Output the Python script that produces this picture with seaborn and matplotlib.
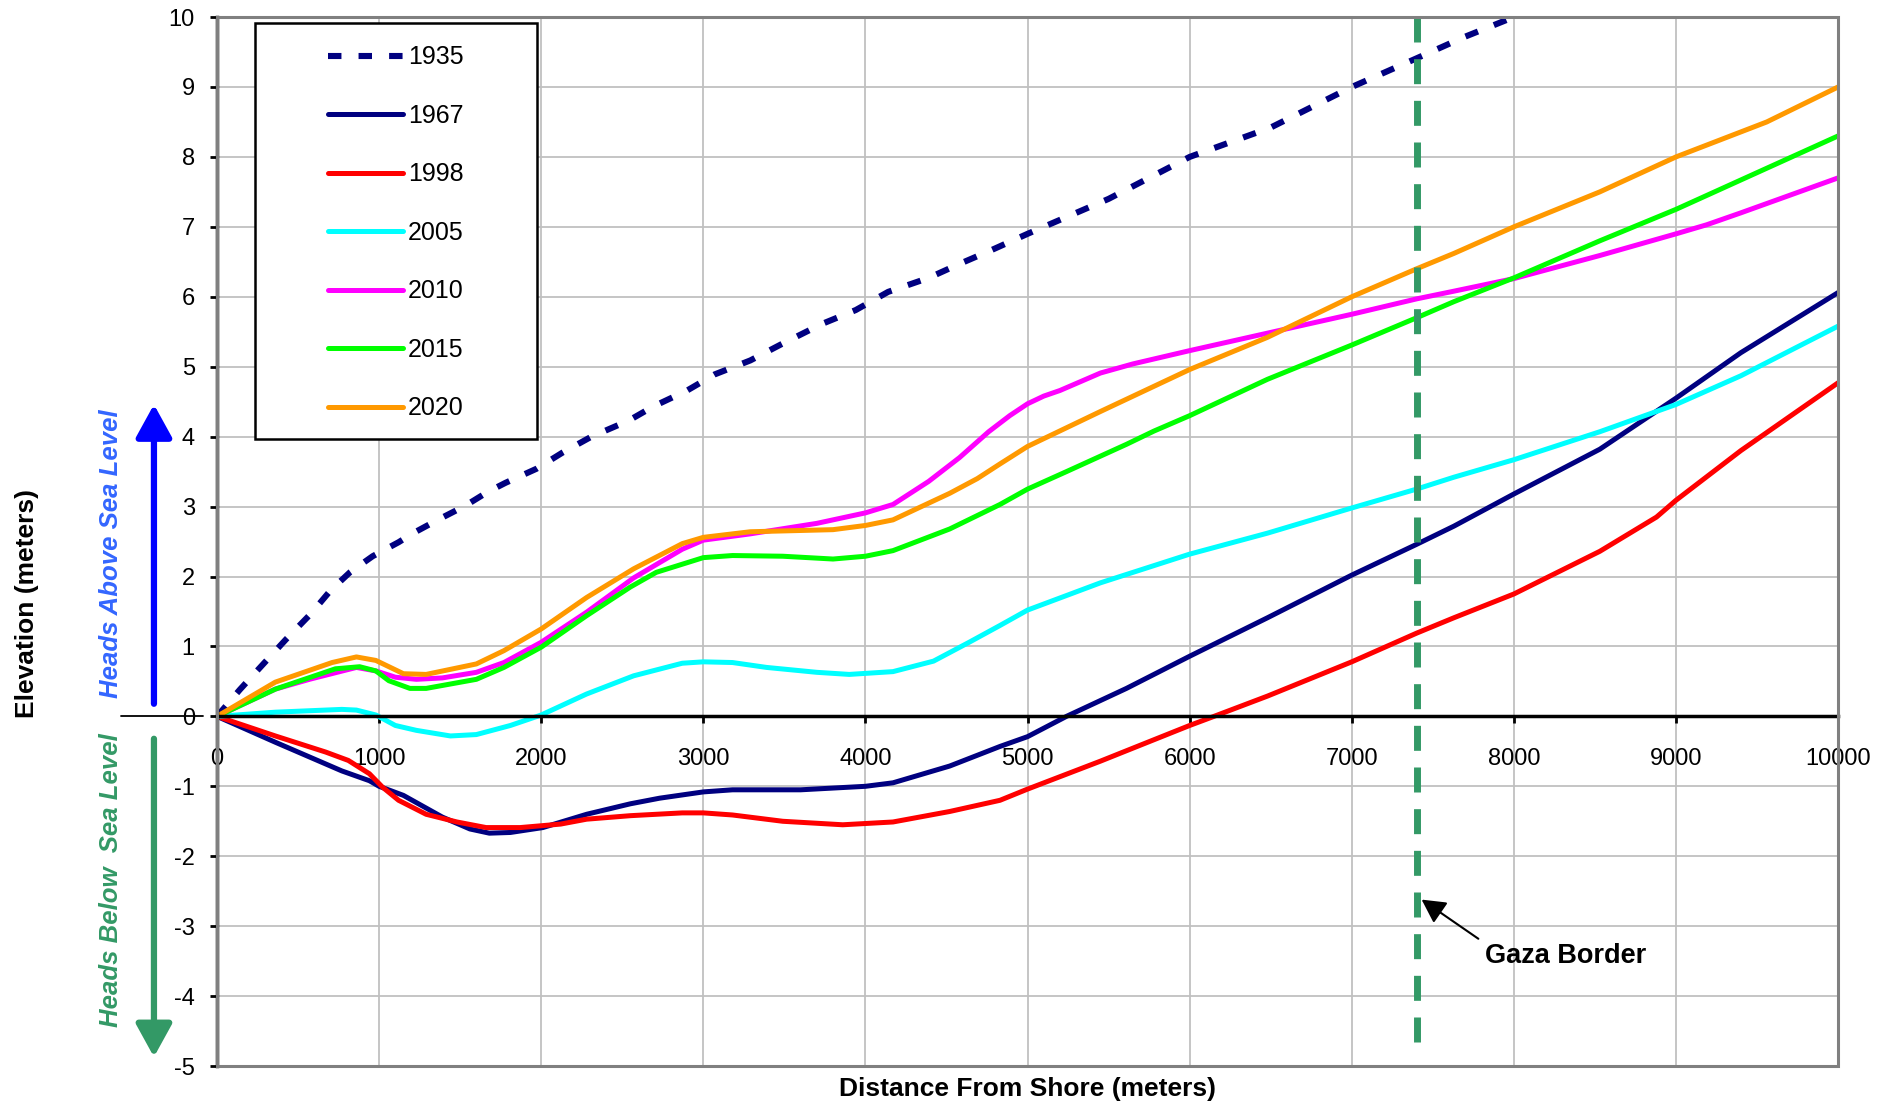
# Grundwasserspiegel-Profile (Gaza) nachgezeichnet mit seaborn
import pandas as pd
import seaborn as sns
import matplotlib.pyplot as plt
from matplotlib.patches import Rectangle

# Daten: Abstand von der Kueste (m) und Hoehe (m) je Jahr
x_1935 = [0, 140, 270, 425, 580, 700, 820, 960, 1120, 1210, 1370, 1530, 1670, 1780, 1970, 2130, 2310,
          2540, 2690, 2900, 3070, 3290, 3480, 3730, 3940, 4140, 4390, 4580, 4770, 5000, 5500, 6000,
          6500, 7000, 7400, 7700, 8000]
y_1935 = [0, 0.38, 0.71, 1.1, 1.47, 1.8, 2.06, 2.29, 2.49, 2.62, 2.82, 3.01, 3.21, 3.34, 3.54, 3.77, 4.0,
          4.23, 4.43, 4.66, 4.89, 5.09, 5.32, 5.61, 5.81, 6.07, 6.27, 6.47, 6.66, 6.9, 7.4, 8.0,
          8.42, 9.0, 9.41, 9.72, 10.0]

x_1967 = [0, 360, 770, 940, 1000, 1150, 1390, 1560, 1680, 1810, 2010, 2280, 2550, 2730, 3000, 3180, 3600,
          4000, 4170, 4520, 4830, 5000, 5240, 5610, 6000, 6480, 7000, 7400, 7630, 8000, 8530, 9000,
          9400, 10000]
y_1967 = [0, -0.37, -0.78, -0.92, -1.0, -1.13, -1.44, -1.61, -1.67, -1.66, -1.59, -1.40, -1.25, -1.17,
          -1.08, -1.05, -1.05, -1.0, -0.95, -0.71, -0.43, -0.29, 0.0, 0.40, 0.86, 1.41, 2.02, 2.46,
          2.72, 3.18, 3.82, 4.55, 5.2, 6.06]

x_1998 = [0, 360, 670, 810, 940, 1020, 1120, 1290, 1480, 1660, 1870, 2120, 2280, 2550, 2870, 3000, 3180,
          3490, 3860, 4170, 4520, 4830, 5000, 5450, 5590, 6000, 6150, 6480, 7000, 7400, 7630, 8000,
          8530, 8880, 9000, 9400, 10000]
y_1998 = [0, -0.28, -0.51, -0.63, -0.82, -1.01, -1.2, -1.40, -1.51, -1.59, -1.59, -1.54, -1.47, -1.42,
          -1.38, -1.38, -1.41, -1.50, -1.55, -1.51, -1.36, -1.2, -1.04, -0.64, -0.51, -0.13, 0.0, 0.29,
          0.78, 1.19, 1.41, 1.75, 2.36, 2.85, 3.09, 3.80, 4.77]

x_2005 = [0, 360, 770, 860, 980, 1100, 1230, 1440, 1600, 1810, 2000, 2280, 2570, 2870, 3000, 3180, 3390,
          3700, 3900, 4170, 4420, 4640, 4830, 5000, 5450, 6000, 6480, 7000, 7400, 7630, 8000, 8530,
          9000, 9400, 10000]
y_2005 = [0, 0.06, 0.10, 0.09, 0.02, -0.13, -0.2, -0.28, -0.26, -0.13, 0.02, 0.32, 0.58, 0.76, 0.78,
          0.77, 0.70, 0.63, 0.60, 0.64, 0.79, 1.06, 1.30, 1.52, 1.91, 2.32, 2.62, 2.98, 3.25, 3.42,
          3.67, 4.07, 4.46, 4.87, 5.58]

x_2010 = [0, 360, 570, 860, 980, 1100, 1230, 1390, 1600, 1770, 2000, 2280, 2570, 2870, 3000, 3290, 3700,
          4000, 4170, 4390, 4580, 4760, 4890, 5000, 5100, 5200, 5450, 5650, 6000, 6480, 7000, 7400,
          7630, 8000, 8530, 9000, 9190, 9400, 10000]
y_2010 = [0, 0.39, 0.53, 0.70, 0.65, 0.56, 0.53, 0.55, 0.63, 0.77, 1.06, 1.49, 1.98, 2.39, 2.52, 2.61,
          2.76, 2.91, 3.03, 3.36, 3.7, 4.07, 4.3, 4.47, 4.58, 4.66, 4.91, 5.04, 5.23, 5.48, 5.75, 5.97,
          6.08, 6.26, 6.59, 6.9, 7.03, 7.2, 7.7]

x_2015 = [0, 360, 730, 880, 980, 1060, 1190, 1290, 1600, 1770, 2000, 2280, 2550, 2710, 3000, 3180, 3490,
          3800, 4000, 4170, 4520, 4830, 5000, 5240, 5610, 5780, 6000, 6480, 7000, 7400, 7630, 8000,
          8530, 9000, 9400, 10000]
y_2015 = [0, 0.39, 0.68, 0.71, 0.65, 0.51, 0.40, 0.40, 0.53, 0.70, 0.99, 1.44, 1.85, 2.06, 2.27, 2.30,
          2.29, 2.25, 2.29, 2.37, 2.68, 3.03, 3.25, 3.50, 3.89, 4.08, 4.30, 4.82, 5.31, 5.70, 5.93,
          6.27, 6.8, 7.25, 7.67, 8.3]

x_2020 = [0, 360, 710, 860, 980, 1150, 1290, 1600, 1770, 2000, 2280, 2570, 2870, 3000, 3290, 3800, 4000,
          4170, 4520, 4690, 4830, 5000, 5450, 6000, 6480, 7000, 7400, 7630, 8000, 8530, 9000, 9560,
          10000]
y_2020 = [0, 0.49, 0.77, 0.85, 0.80, 0.61, 0.60, 0.75, 0.94, 1.25, 1.70, 2.11, 2.47, 2.56, 2.64, 2.67,
          2.73, 2.81, 3.19, 3.40, 3.61, 3.86, 4.36, 4.96, 5.42, 6.0, 6.40, 6.62, 7.0, 7.5, 8.0, 8.5, 9.0]

years = ["1935", "1967", "1998", "2005", "2010", "2015", "2020"]
x_ticks = list(range(0, 10001, 1000))
y_ticks = list(range(-5, 11))
gaza_border = 7400

series = {"1935": (x_1935, y_1935), "1967": (x_1967, y_1967), "1998": (x_1998, y_1998),
          "2005": (x_2005, y_2005), "2010": (x_2010, y_2010), "2015": (x_2015, y_2015),
          "2020": (x_2020, y_2020)}
colors = {"1935": "#000080", "1967": "#000080", "1998": "#FF0000", "2005": "#00FFFF",
          "2010": "#FF00FF", "2015": "#00FF00", "2020": "#FF9900"}

sns.set_theme(style="white")
plt.rcParams["font.family"] = ["Liberation Sans", "DejaVu Sans"]
plt.rcParams["axes.unicode_minus"] = False
plt.rcParams["text.color"] = "black"
plt.rcParams["xtick.color"] = "black"
plt.rcParams["ytick.color"] = "black"

fig = plt.figure(figsize=(18.92, 11.07), dpi=100)
ax = fig.add_axes([0.1147, 0.0370, 0.8568, 0.9476])

# Linien zeichnen
for year in years:
    xs, ys = series[year]
    df = pd.DataFrame({"x": xs, "y": ys})
    kw = dict(color=colors[year], linewidth=3.6, label=year)
    if year == "1935":
        kw.update(linewidth=4.4)
    sns.lineplot(data=df, x="x", y="y", ax=ax, sort=False, estimator=None, legend=False, **kw)
    if year == "1935":
        ax.lines[-1].set_dashes((2.2, 2.8))
        ax.lines[-1].set_dash_capstyle("butt")

# Achsen wie in Excel
ax.set_xlim(0, 10000)
ax.set_ylim(-5, 10)
ax.set_xticks(x_ticks)
ax.set_yticks(y_ticks)
ax.set_xlabel("")
ax.set_ylabel("")
ax.grid(True, color="#c0c0c0", linewidth=1.3)
ax.set_axisbelow(True)
ax.spines["bottom"].set_position(("data", 0))
ax.spines["bottom"].set_color("black")
ax.spines["bottom"].set_linewidth(2.5)
ax.spines["left"].set_color("black")
ax.spines["left"].set_linewidth(2.5)
for s in ["top", "right"]:
    ax.spines[s].set_visible(False)
ax.add_patch(Rectangle((0, 0), 1, 1, transform=ax.transAxes, fill=False,
                       edgecolor="#808080", linewidth=2.2, zorder=3, clip_on=False))
ax.tick_params(axis="y", direction="out", length=5, width=2, pad=11, labelsize=17, left=True)
ax.tick_params(axis="x", direction="out", length=5, width=2, pad=18, labelsize=17, bottom=True)

# Achsentitel
ax.text(0.5, -0.010, "Distance From Shore (meters)", transform=ax.transAxes,
        ha="center", va="top", fontsize=19, fontweight="bold")
ax.text(-0.117, 0.441, "Elevation (meters)", transform=ax.transAxes, rotation=90,
        ha="center", va="center", fontsize=19, fontweight="bold")

# Pfeile links: ueber / unter dem Meeresspiegel
ytr = ax.get_yaxis_transform()
ax.plot([-0.0592, -0.0086], [0, 0], transform=ytr, color="black", linewidth=1.3, clip_on=False)
ax.annotate("", xy=(-0.0389, 4.46), xytext=(-0.0389, 0.18), xycoords=ytr, textcoords=ytr,
            arrowprops=dict(arrowstyle="-|>,head_length=0.4,head_width=0.22", color="#0000FF",
                            lw=4.5, mutation_scale=50, shrinkA=0, shrinkB=0), annotation_clip=False)
ax.annotate("", xy=(-0.0389, -4.87), xytext=(-0.0389, -0.32), xycoords=ytr, textcoords=ytr,
            arrowprops=dict(arrowstyle="-|>,head_length=0.4,head_width=0.22", color="#339966",
                            lw=4.5, mutation_scale=50, shrinkA=0, shrinkB=0), annotation_clip=False)
ax.text(-0.0654, 2.32, "Heads Above Sea Level", transform=ytr, rotation=90, ha="center",
        va="center", fontsize=18.5, fontweight="bold", fontstyle="italic", color="#3366FF")
ax.text(-0.0654, -2.34, "Heads Below  Sea Level", transform=ytr, rotation=90, ha="center",
        va="center", fontsize=18.5, fontweight="bold", fontstyle="italic", color="#339966")

# Gaza-Grenze
ax.plot([gaza_border, gaza_border], [10, -4.78], color="#339966", linewidth=5,
        dashes=(3.6, 2.4), zorder=2.5)
ax.annotate("", xy=(7431, -2.62), xytext=(7781, -3.18),
            arrowprops=dict(arrowstyle="-|>,head_length=0.6,head_width=0.32", color="black",
                            lw=1.5, mutation_scale=24, shrinkA=0, shrinkB=0))
ax.text(8317, -3.42, "Gaza Border", ha="center", va="center", fontsize=19.5, fontweight="bold")

# Legende mit eigenem Rahmen
ax.add_patch(Rectangle((0.0234, 0.5977), 0.1740, 0.3966, transform=ax.transAxes,
                       facecolor="white", edgecolor="black", linewidth=1.8, zorder=4))
handles = [ax.lines[i] for i in range(len(years))]
leg = ax.legend(handles, years, loc="upper left", bbox_to_anchor=(0.0685, 0.973),
                frameon=False, fontsize=18, handlelength=3.0, handletextpad=0.2,
                labelspacing=1.38, borderpad=0, borderaxespad=0)
leg.set_zorder(5)

fig.savefig("out.png", dpi=100)
